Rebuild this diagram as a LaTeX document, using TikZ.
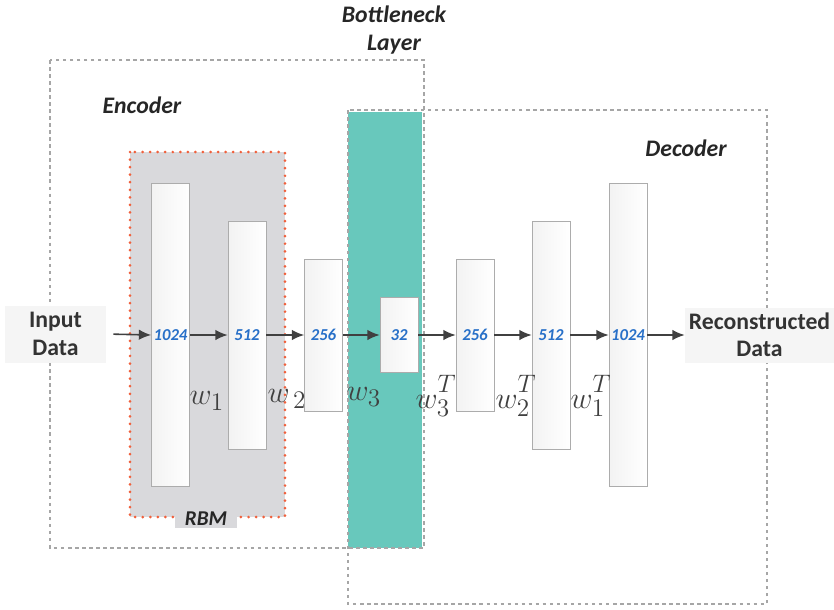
\documentclass[tikz,border=0pt]{standalone}
\usepackage{fontspec}
\setmainfont{Carlito}
\usetikzlibrary{arrows.meta}

\definecolor{teal1}{RGB}{104,200,188}
\definecolor{rbmgray}{RGB}{217,217,220}
\definecolor{dotred}{RGB}{240,96,60}
\definecolor{numblue}{RGB}{40,112,200}
\definecolor{arrgray}{RGB}{64,64,64}

\newcommand{\wsup}[2]{$w_{#1}^{\raisebox{3pt}{$\scriptstyle #2$}}$}

\tikzset{
    layer/.style={draw=gray!65, left color=gray!10, right color=white, minimum width=0.76cm,
        inner sep=0pt, font=\fontsize{9.5}{10}\selectfont\bfseries\itshape, text=numblue},
    iobox/.style={fill=gray!8, align=center, inner sep=0pt, text=black!80,
        font=\fontsize{13.5}{15.5}\selectfont\bfseries},
    title/.style={align=center, text=black!85, font=\fontsize{13.5}{15.5}\selectfont\bfseries\itshape},
    weight/.style={text=black!75, font=\fontsize{19}{21}\selectfont},
    flow/.style={-{Latex[length=7pt,width=6pt]}, arrgray, line width=0.9pt},
    region/.style={gray!70, dash pattern=on 2pt off 2pt, line width=0.6pt}
}

\begin{document}
\begin{tikzpicture}[x=0.02cm, y=-0.02cm]
    \useasboundingbox (0,0) rectangle (834,609);

    % RBM block
    \fill[rbmgray] (175,505) rectangle (237,528);
    \draw[dotred, fill=rbmgray, line width=1.7pt, line cap=round, dash pattern=on 0pt off 4.3pt] (130,152) rectangle (285,517);
    \fill[rbmgray] (176,510) rectangle (236,528);
    \node[title, font=\fontsize{12}{14}\selectfont\bfseries\itshape] (rbm) at (206,519) {RBM};

    % bottleneck
    \fill[teal1] (348,112) rectangle (422,548);

    % encoder / decoder regions
    \draw[region] (50,60) rectangle (424,548);
    \draw[region] (348,110) rectangle (767,604);

    \node[title] (enc) at (142,105) {Encoder};
    \node[title] (dec) at (686,148) {Decoder};
    \node[title] (bot) at (394,30) {Bottleneck\\Layer};

    % layers
    \foreach \x/\h/\t/\i in {170.5/303/1024/1, 247/228/512/2, 323.5/152/256/3, 399/75/32/4,
                             475/152/256/5, 551/228/512/6, 628/303/1024/7}{
        \node[layer, minimum height=\h*0.02cm] (l\i) at (\x,335) {\t};
    }

    \node[iobox, minimum width=2.02cm, minimum height=1.14cm] (in) at (55.5,334) {Input\\Data};
    \node[iobox, minimum width=2.98cm, minimum height=1.1cm] (out) at (759.5,335) {Reconstructed\\Data};

    \draw[flow, shorten <=0.14cm] (in.east) -- (l1.west);
    \foreach \a/\b in {l1/l2, l2/l3, l3/l4, l4/l5, l5/l6, l6/l7}{
        \draw[flow] (\a.east) -- (\b.west);
    }
    \draw[flow] (l7.east) -- (out.west);

    % weights
    \node[weight] (w1) at (207,401) {$w_{1}$};
    \node[weight] (w2) at (287,399) {$w_{\,2}$};
    \node[weight] (w3) at (364,397) {$w_{3}$};
    \node[weight] (w3t) at (436,396) {\wsup{3}{T}};
    \node[weight] (w2t) at (516,396) {\wsup{2}{T}};
    \node[weight] (w1t) at (591,396) {\wsup{1}{T}};

\end{tikzpicture}
\end{document}
